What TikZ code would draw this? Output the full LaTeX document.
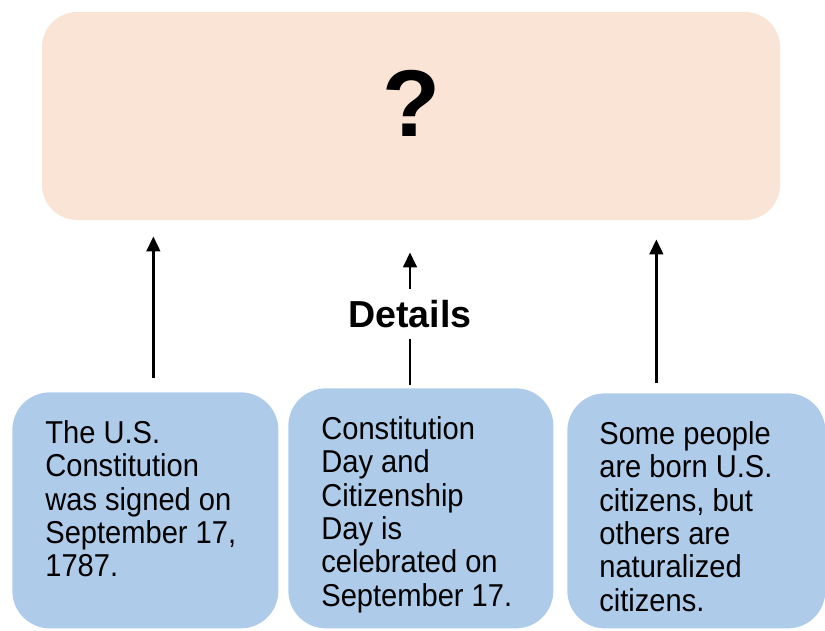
\documentclass[tikz,border=0pt]{standalone}
\usepackage{fontspec}
\setmainfont{Liberation Sans}
\newfontfamily\bodyfont[FakeStretch=0.92]{Liberation Sans}
\usepackage{xcolor}
\usetikzlibrary{arrows.meta}

\definecolor{peach}{HTML}{FAE4D6}
\definecolor{detailblue}{HTML}{AECBE9}

\tikzset{
	mainbox/.style={fill=peach, rounded corners=0.7cm, minimum width=14.76cm, minimum height=4.16cm},
	detailbox/.style={fill=detailblue, rounded corners=0.75cm, anchor=north west, inner xsep=0.66cm, inner ysep=0.56cm, font=\bodyfont\fontsize{18}{19}\selectfont},
	uparrow/.style={line width=1.6pt, -{Triangle[width=0.27cm,length=0.3cm]}}
}
\newcommand{\detailtext}[3]{\parbox[t][#1][t]{#2}{\raggedright #3}}

\begin{document}
\begin{tikzpicture}
		\useasboundingbox (0,0) rectangle (16.5,-12.6);
		\node [mainbox] (main) at (8.22,-2.32) {};
		\node [font=\fontsize{54}{54}\selectfont\bfseries, inner sep=0] (quest) at (8.22,-2.06) {?};
		\node [detailbox] (b1) at (0.24,-7.84) {\detailtext{3.6cm}{4.0cm}{The U.S.\\Constitution\\was signed on\\September 17,\\1787.}};
		\node [detailbox] (b2) at (5.76,-7.76) {\detailtext{3.68cm}{3.98cm}{Constitution\\Day and\\Citizenship\\Day is\\celebrated on\\September 17.}};
		\node [detailbox, inner xsep=0.64cm] (b3) at (11.34,-7.86) {\detailtext{3.58cm}{3.88cm}{Some people\\are born U.S.\\citizens, but\\others are\\naturalized\\citizens.}};
		\node [font=\fontsize{21.4}{22}\selectfont\bfseries, inner sep=0.22cm] (det) at (8.2,-6.28) {Details};
		\draw [uparrow, shorten <=0.28cm, shorten >=0.32cm] ([xshift=0.16cm]b1.north) -- ([xshift=0.16cm]b1.north |- main.south);
		\draw [line width=1.6pt, shorten <=0.06cm] (b2.north -| det.south) -- (det.south);
		\draw [uparrow, shorten >=0.64cm] (det.north) -- (det.north |- main.south);
		\draw [uparrow, shorten <=0.2cm, shorten >=0.38cm] ([xshift=-0.8cm]b3.north) -- ([xshift=-0.8cm]b3.north |- main.south);
	\end{tikzpicture}
\end{document}
